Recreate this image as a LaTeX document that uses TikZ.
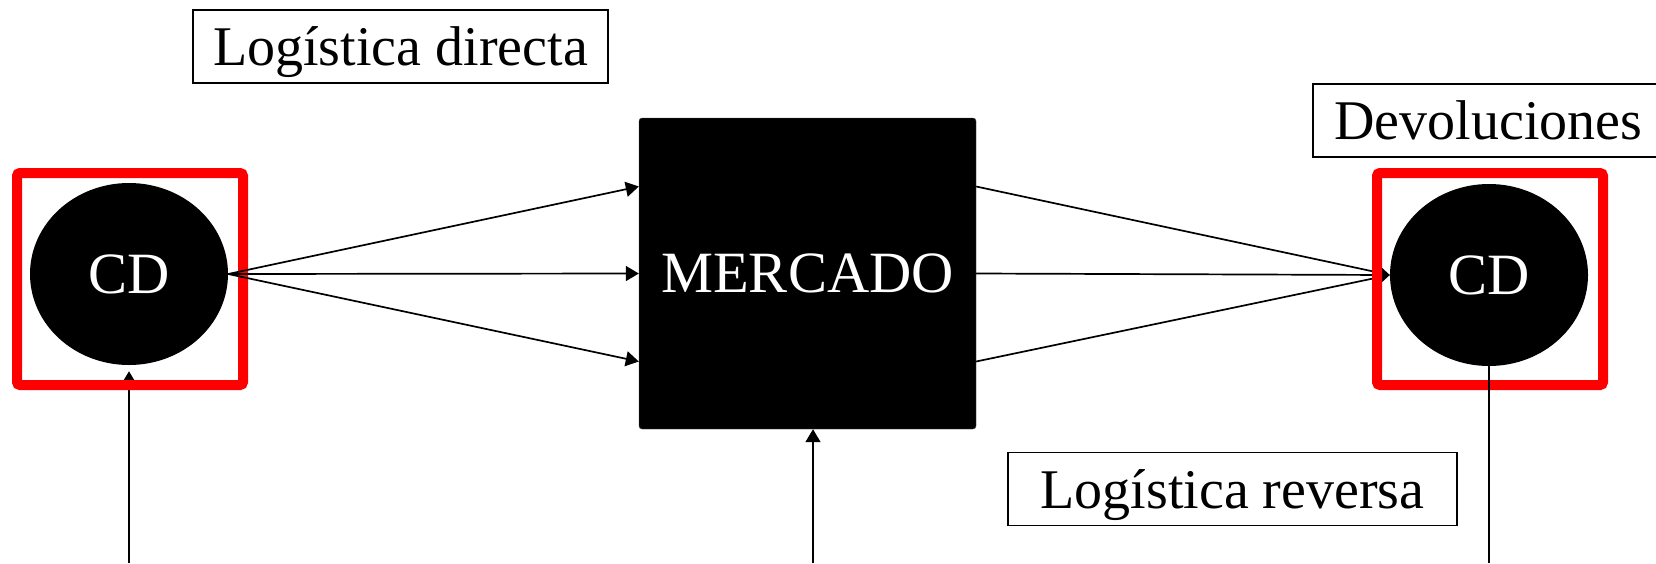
\documentclass[tikz,border=0pt]{standalone}
\usepackage{fontspec}
\setmainfont{Liberation Serif}
\usepackage{tikz}
\usetikzlibrary{shapes,arrows.meta,backgrounds}
\usetikzlibrary{positioning, shapes.geometric}
\tikzset{
  cdnode/.style={ ellipse, fill=black, text=white, font=\fontsize{58.5}{62}\selectfont, minimum width=198pt, minimum height=182pt, inner sep=0pt }
}
\tikzset{
  mktbox/.style={ rectangle, fill=black, draw=black!70, text=white, font=\fontsize{58.5}{62}\selectfont, rounded corners=3pt, minimum width=337pt, minimum height=311pt }
}
\tikzset{
  redframe/.style={ draw=red, line width=10pt, rounded corners=3pt, minimum width=226pt, minimum height=212pt }
}
\tikzset{
  lbl/.style={ draw, line width=1.6pt, minimum height=73pt, text height=38pt, text depth=0pt, inner sep=0pt }
}
\tikzset{
  flow/.style={ line width=1.7pt, -{Triangle[length=13pt, width=15pt]} }
}

\begin{document}
\begin{tikzpicture}[x=1pt, y=-1pt, font=\fontsize{56}{60}\selectfont]
      \useasboundingbox (0, 0) rectangle (1656, 563);

      \node[cdnode] (cdA) at (129, 274) {CD};
      \node[cdnode] (cdB) at (1489, 275) {CD};
      \node[mktbox] (mkt) at (807.5, 273.5) {MERCADO};

      \coordinate (cdAin) at (129, 563);
      \coordinate (mktin) at (813, 563);
      \coordinate (cdBout) at (1489, 563);

      \draw[flow, shorten >=6pt] (cdAin) -- (cdA.south);
      \draw[flow] (mktin) -- (mktin |- mkt.south);

      \node[redframe] (frA) at (130, 279) {};

      \draw[flow] (cdA.east) -- ([yshift=87pt]mkt.west);
      \draw[flow] (cdA.east) -- (mkt.west);
      \draw[flow] (cdA.east) -- ([yshift=-88pt]mkt.west);

      \draw[flow] ([yshift=87pt]mkt.east) -- (cdB.west);
      \draw[flow] (mkt.east) -- (cdB.west);
      \draw[flow] ([yshift=-88pt]mkt.east) -- (cdB.west);

      \node[redframe] (frB) at (1490, 279) {};
      \draw[line width=1.7pt] (cdB.south) -- (cdBout);

      \node[lbl, minimum width=415pt] (direct) at (400.5, 46.5) {Logística directa};
      \node[lbl, minimum width=351pt] (devol) at (1488.5, 120.5) {Devoluciones};
      \node[lbl, minimum width=449pt] (revers) at (1232.5, 489) {Logística reversa};

    \end{tikzpicture}
\end{document}
